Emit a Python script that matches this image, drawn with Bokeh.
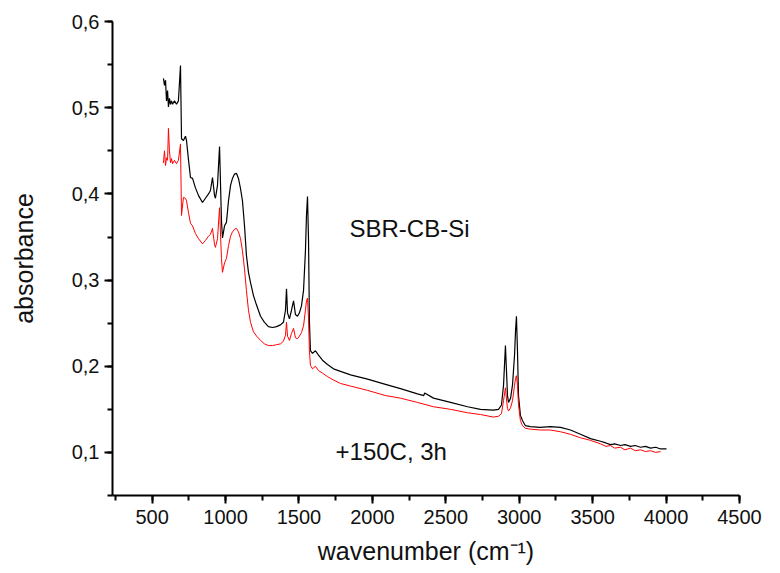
from bokeh.plotting import figure
from bokeh.models import SingleIntervalTicker, CustomJSTickFormatter, Range1d, Label
from bokeh.embed import file_html
from bokeh.resources import INLINE

# ---- data ----
wavenumber_black = [577, 584, 591, 598, 605, 611, 618, 625, 632, 639, 652, 666, 679, 693, 700, 713, 727, 734,
                    748, 761, 775, 795, 816, 843, 863, 884, 897, 911, 925, 931, 945, 959, 972, 979, 993, 1006,
                    1020, 1034, 1047, 1061, 1074, 1088, 1102, 1115, 1129, 1142, 1156, 1170, 1190, 1211, 1238,
                    1265, 1292, 1320, 1347, 1374, 1394, 1408, 1415, 1422, 1435, 1449, 1463, 1476, 1490, 1503,
                    1517, 1531, 1544, 1551, 1558, 1565, 1571, 1578, 1592, 1612, 1633, 1660, 1694, 1735, 1783,
                    1851, 1967, 2089, 2191, 2307, 2350, 2356, 2416, 2532, 2648, 2736, 2824, 2859, 2879, 2893,
                    2906, 2913, 2920, 2927, 2941, 2954, 2968, 2975, 2981, 2988, 2995, 3008, 3022, 3042, 3076,
                    3144, 3213, 3281, 3349, 3417, 3485, 3553, 3590, 3621, 3650, 3690, 3720, 3758, 3790, 3826,
                    3860, 3894, 3930, 3962, 4003]
absorbance_black = [0.534, 0.526, 0.532, 0.508, 0.520, 0.501, 0.511, 0.504, 0.508, 0.504, 0.508, 0.504, 0.508,
                    0.549, 0.464, 0.462, 0.467, 0.462, 0.439, 0.419, 0.418, 0.407, 0.398, 0.390, 0.395, 0.400,
                    0.404, 0.419, 0.398, 0.395, 0.410, 0.455, 0.369, 0.349, 0.363, 0.367, 0.392, 0.410, 0.418,
                    0.423, 0.424, 0.418, 0.406, 0.392, 0.363, 0.329, 0.309, 0.297, 0.282, 0.271, 0.258, 0.251,
                    0.246, 0.245, 0.246, 0.248, 0.251, 0.265, 0.290, 0.262, 0.255, 0.265, 0.276, 0.260, 0.258,
                    0.262, 0.270, 0.288, 0.334, 0.375, 0.397, 0.346, 0.253, 0.218, 0.215, 0.218, 0.213, 0.207,
                    0.202, 0.197, 0.194, 0.190, 0.185, 0.179, 0.174, 0.168, 0.166, 0.169, 0.163, 0.158, 0.153,
                    0.150, 0.149, 0.150, 0.155, 0.178, 0.224, 0.195, 0.166, 0.158, 0.163, 0.178, 0.213, 0.242,
                    0.258, 0.218, 0.166, 0.143, 0.137, 0.131, 0.130, 0.129, 0.130, 0.129, 0.126, 0.121, 0.116,
                    0.113, 0.111, 0.109, 0.110, 0.108, 0.109, 0.107, 0.108, 0.106, 0.107, 0.105, 0.106, 0.104,
                    0.104]

wavenumber_red = [577, 584, 591, 598, 605, 611, 618, 625, 632, 639, 652, 666, 679, 693, 700, 713, 727, 734,
                  748, 761, 775, 795, 816, 843, 863, 884, 897, 911, 925, 931, 945, 959, 972, 979, 993, 1006,
                  1020, 1034, 1047, 1061, 1074, 1088, 1102, 1115, 1129, 1142, 1156, 1170, 1190, 1211, 1238,
                  1265, 1292, 1320, 1347, 1374, 1394, 1408, 1415, 1422, 1435, 1449, 1463, 1476, 1490, 1503,
                  1517, 1531, 1544, 1551, 1558, 1565, 1571, 1578, 1592, 1612, 1633, 1660, 1694, 1735, 1783,
                  1851, 1967, 2089, 2191, 2307, 2416, 2532, 2648, 2736, 2824, 2859, 2879, 2893, 2906, 2913,
                  2920, 2927, 2941, 2954, 2968, 2975, 2981, 2988, 2995, 3008, 3022, 3042, 3076, 3144, 3213,
                  3281, 3349, 3417, 3485, 3553, 3590, 3621, 3650, 3690, 3720, 3758, 3790, 3826, 3860, 3894,
                  3930, 3962, 4003]
absorbance_red = [0.436, 0.450, 0.433, 0.442, 0.439, 0.476, 0.450, 0.436, 0.441, 0.435, 0.439, 0.435, 0.439,
                  0.458, 0.375, 0.396, 0.395, 0.392, 0.378, 0.366, 0.363, 0.354, 0.348, 0.342, 0.346, 0.351,
                  0.353, 0.360, 0.341, 0.338, 0.348, 0.384, 0.325, 0.309, 0.320, 0.325, 0.340, 0.351, 0.356,
                  0.359, 0.360, 0.356, 0.348, 0.334, 0.313, 0.288, 0.265, 0.251, 0.240, 0.235, 0.230, 0.226,
                  0.224, 0.224, 0.225, 0.226, 0.229, 0.236, 0.251, 0.235, 0.230, 0.238, 0.244, 0.233, 0.232,
                  0.235, 0.239, 0.247, 0.265, 0.276, 0.279, 0.255, 0.218, 0.201, 0.197, 0.200, 0.195, 0.192,
                  0.188, 0.184, 0.180, 0.177, 0.172, 0.166, 0.163, 0.158, 0.153, 0.150, 0.146, 0.144, 0.141,
                  0.142, 0.145, 0.160, 0.175, 0.162, 0.151, 0.148, 0.152, 0.160, 0.178, 0.186, 0.189, 0.178,
                  0.155, 0.137, 0.131, 0.128, 0.127, 0.126, 0.126, 0.124, 0.121, 0.117, 0.114, 0.110, 0.107,
                  0.108, 0.105, 0.106, 0.103, 0.105, 0.102, 0.103, 0.101, 0.102, 0.100, 0.101]

x_ticks_interval = 500
y_ticks_interval = 0.1
sample_label = "SBR-CB-Si"
condition_label = "+150C, 3h"

FONT = "Liberation Sans"

p = figure(width=780, height=573, output_backend="svg", toolbar_location=None,
           x_range=Range1d(230, 4500), y_range=Range1d(0.05, 0.6001),
           min_border_left=112, min_border_right=41, min_border_top=21, min_border_bottom=78)
p.outline_line_color = None
p.xgrid.visible = False
p.ygrid.visible = False
p.background_fill_color = "white"
p.border_fill_color = "white"

p.line(wavenumber_black, absorbance_black, line_color="black", line_width=1.2)
p.line(wavenumber_red, absorbance_red, line_color="#ff0000", line_width=1.0)

p.xaxis.ticker = SingleIntervalTicker(interval=x_ticks_interval, num_minor_ticks=2)
p.yaxis.ticker = SingleIntervalTicker(interval=y_ticks_interval, num_minor_ticks=2)
p.yaxis.formatter = CustomJSTickFormatter(code="return tick.toFixed(1).replace('.', ',');")

for ax in (p.xaxis[0], p.yaxis[0]):
    ax.axis_line_width = 2
    ax.axis_line_color = "black"
    ax.major_tick_line_width = 2
    ax.minor_tick_line_width = 2
    ax.major_tick_line_color = "black"
    ax.minor_tick_line_color = "black"
    ax.major_tick_out = 8
    ax.major_tick_in = 0
    ax.minor_tick_out = 5
    ax.minor_tick_in = 0
    ax.major_label_text_font = FONT
    ax.major_label_text_font_size = "20px"
    ax.major_label_text_color = "#111111"
    ax.axis_label_text_font = FONT
    ax.axis_label_text_font_size = "25px"
    ax.axis_label_text_font_style = "normal"
    ax.axis_label_text_color = "#111111"

p.xaxis.axis_label = "wavenumber (cm\u207b\u00b9)"
p.yaxis.axis_label = "absorbance"
p.xaxis.major_label_standoff = 6
p.yaxis.major_label_standoff = 5
p.xaxis.axis_label_standoff = 10
p.yaxis.axis_label_standoff = 31

p.add_layout(Label(x=1844, y=0.36, text=sample_label, text_font=FONT, text_font_size="24px",
                   text_color="#111111", text_baseline="middle", text_align="left"))
p.add_layout(Label(x=1749, y=0.101, text=condition_label, text_font=FONT, text_font_size="24px",
                   text_color="#111111", text_baseline="middle", text_align="left"))

open("out.html", "w").write(file_html(p, INLINE))
